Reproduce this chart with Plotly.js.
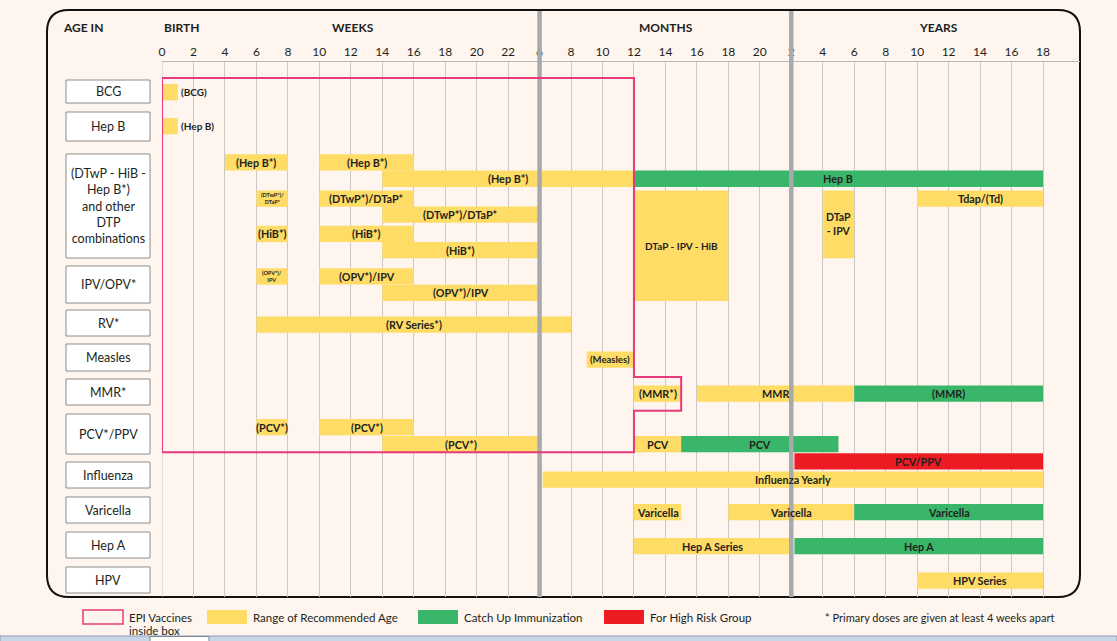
<!DOCTYPE html>
<html><head><meta charset="utf-8">
<script src="https://cdn.plot.ly/plotly-3.0.1.min.js"></script>
<style>html,body{margin:0;padding:0;background:#fdf5ee;}#chart{width:1117px;height:641px;}</style>
</head><body><div id="chart"></div>
<script>
// ---------------- DATA ----------------
const tickLabels = ["0","2","4","6","8","10","12","14","16","18","20","22",
                    "6","8","10","12","14","16","18","20",
                    "2","4","6","8","10","12","14","16","18"];
const headerTexts = ["AGE IN","BIRTH","WEEKS","MONTHS","YEARS"];
const rowNames  = ["BCG","HepB","DTP","IPV","RV","Measles","MMR","PCV","Flu","Var","HepA","HPV"];
const rowLabels = ["BCG","Hep B","(DTwP - HiB -<br>Hep B*)<br>and other<br>DTP<br>combinations","IPV/OPV*","RV*",
                   "Measles","MMR*","PCV*/PPV","Influenza","Varicella","Hep A","HPV"];
// bar positions on the age axis (axis index units: weeks 0-22, months 6-20, years 2-18)
const barFrom  = ["BCG:0","HepB:0","DTP:0","DTP:0","DTP:1","DTP:1","DTP:2","DTP:2","DTP:3","DTP:2","DTP:2","DTP:2",
                  "DTP:4","DTP:4","DTP:5","IPV:0","IPV:0","IPV:1","RV:0","Measles:0","MMR:0","MMR:0","MMR:0",
                  "PCV:0","PCV:0","PCV:1","PCV:1","PCV:1","PCV:2","Flu:0","Var:0","Var:0","Var:0","HepA:0","HepA:0","HPV:0"];
const barTo    = [null,null,null,null,null,null,null,null,null,"IPV:1","DTP:5",null,
                  null,null,null,null,null,null,null,null,null,null,null,
                  null,null,null,null,null,null,null,null,null,null,null,null,null];
const barStart = [0,0,2,5,7,15,3,5,7,15,21,24,3,5,7,3,5,7,3,13.5,15,17,22,3,5,7,15,16.5,20.1,12.1,15,18,22,15,20.1,24];
const barEnd   = [0.5,0.5,4,8,15,28,4,8,12,18,22,28,4,8,12,4,8,12,13,15,16.5,22,28,4,8,12,16.5,21.5,28,28,16.5,22,28,20,28,28];
const barLabel = ["(BCG)","(Hep B)","(Hep B*)","(Hep B*)","(Hep B*)","Hep B","(DTwP*)/<br>DTaP*","(DTwP*)/DTaP*","(DTwP*)/DTaP*",
                  "DTaP - IPV - HiB","DTaP<br>- IPV","Tdap/(Td)","(HiB*)","(HiB*)","(HiB*)","(OPV*)/<br>IPV","(OPV*)/IPV","(OPV*)/IPV",
                  "(RV Series*)","(Measles)","(MMR*)","MMR","(MMR)","(PCV*)","(PCV*)","(PCV*)","PCV","PCV","PCV/PPV",
                  "Influenza Yearly","Varicella","Varicella","Varicella","Hep A Series","Hep A","HPV Series"];
const barKind  = ["rec","rec","rec","rec","rec","catch","rec","rec","rec","rec","rec","rec","rec","rec","rec","rec","rec","rec",
                  "rec","rec","rec","rec","catch","rec","rec","rec","rec","catch","risk","rec","rec","rec","catch","rec","catch","rec"];
const legendLabels = [["EPI Vaccines","inside box"],["Range of Recommended Age"],["Catch Up Immunization"],["For High Risk Group"]];
const footnote = "* Primary doses are given at least 4 weeks apart";
const epiBoxEnd = 15, epiMmrEnd = 16.5;

// ---------------- LAYOUT / STYLE ----------------
const COLORS = {rec:'#FFDC66', catch:'#39B66A', risk:'#ED1C24'};
const INK = '#231f20', PINK = '#E8397B', BG = '#fdf5ee';
const FONT = 'Lato';
const ROW_BOX = {BCG:[80,103],HepB:[112,141],DTP:[154,258],IPV:[266,303],RV:[310,336],Measles:[344,371],
                 MMR:[379,405],PCV:[414,454],Flu:[462,488],Var:[497,523],HepA:[532,558],HPV:[567,593]};
const LANE_TOP = {BCG:[84],HepB:[118],DTP:[154.3,170.6,190.5,206.5,225.8,242],IPV:[268.3,284.7],RV:[316.5],
                  Measles:[351.5],MMR:[385.5],PCV:[419,436,453.3],Flu:[471.5],Var:[504],HepA:[538],HPV:[572.5]};
const BAR_H = 16.3;
const TEXT_SIZE = {"(DTwP*)/<br>DTaP*":5.5,"(OPV*)/<br>IPV":5.5,"DTaP<br>- IPV":10.5,"DTaP - IPV - HiB":10,
                   "(Measles)":9.5,"(BCG)":10,"(Hep B)":10};
const DEFAULT_TEXT = 10.8;
// plot area: x 162..1080 px, y 62..597 px
const L=162, R=1080, T=62, B=597, W=1117, H=641;
const STEP = (1043-L)/28;
const PX = p => (p-L)/(R-L);
const PY = p => (B-p)/(B-T);

function laneTop(s){const [r,i]=s.split(':');return LANE_TOP[r][+i];}
function barTop(i){return laneTop(barFrom[i]);}
function barBot(i){return laneTop(barTo[i]||barFrom[i])+BAR_H;}

const traces = ['rec','catch','risk'].map(k=>{
  const idx = barKind.map((v,i)=>v===k?i:-1).filter(i=>i>=0);
  return {
    type:'bar', orientation:'h',
    base: idx.map(i=>barStart[i]),
    x: idx.map(i=>barEnd[i]-barStart[i]),
    y: idx.map(i=>(barTop(i)+barBot(i))/2),
    width: idx.map(i=>barBot(i)-barTop(i)),
    marker:{color:COLORS[k], line:{width:0}},
    hoverinfo:'skip', showlegend:false
  };
});

const shapes = [];
const annotations = [];
// bar labels (drawn above separator lines)
barLabel.forEach((t,i)=>{
  const len = barEnd[i]-barStart[i];
  const outside = len < 1;
  annotations.push({xref:'x', yref:'y', x: outside ? barEnd[i]+0.08 : (barStart[i]+barEnd[i])/2,
    y:(barTop(i)+barBot(i))/2, text:t, showarrow:false, xanchor: outside?'left':'center', yanchor:'middle',
    borderpad:0, font:{family:FONT, weight:700, color:INK, size:TEXT_SIZE[t]||DEFAULT_TEXT}});
});
// rounded frame
const r=22, fx0=47, fx1=R, fy0=10, fy1=B;
const P=(x,y)=>PX(x)+','+PY(y);
shapes.push({type:'path', xref:'paper', yref:'paper', layer:'below',
  path:`M ${P(fx0+r,fy0)} L ${P(fx1-r,fy0)} Q ${P(fx1,fy0)} ${P(fx1,fy0+r)} L ${P(fx1,fy1-r)} Q ${P(fx1,fy1)} ${P(fx1-r,fy1)} L ${P(fx0+r,fy1)} Q ${P(fx0,fy1)} ${P(fx0,fy1-r)} L ${P(fx0,fy0+r)} Q ${P(fx0,fy0)} ${P(fx0+r,fy0)} Z`,
  line:{color:'#111',width:2}});
// left gridline at 0
shapes.push({type:'line', xref:'x', yref:'paper', x0:0, x1:0, y0:0, y1:1, layer:'below', line:{color:'#c9c9c9',width:1}});
// thick separators
[12,20].forEach(v=>shapes.push({type:'line', xref:'x', yref:'paper', x0:v, x1:v, y0:PY(B), y1:PY(fy0+1), layer:'above', line:{color:'#a7a9ac',width:4.5}}));
// EPI pink outline
const mT = LANE_TOP.MMR[0]-8.5, mB = LANE_TOP.MMR[0]+BAR_H+9, pT = 78, pB = LANE_TOP.PCV[1]+BAR_H;
shapes.push({type:'path', xref:'x', yref:'y', layer:'above',
  path:`M 0,${pT} L ${epiBoxEnd},${pT} L ${epiBoxEnd},${mT} L ${epiMmrEnd},${mT} L ${epiMmrEnd},${mB} L ${epiBoxEnd},${mB} L ${epiBoxEnd},${pB} L 0,${pB} Z`,
  line:{color:PINK,width:2}});
// row label boxes
rowNames.forEach((n,i)=>{
  const [t,b]=ROW_BOX[n];
  shapes.push({type:'rect', xref:'paper', yref:'paper', x0:PX(66), x1:PX(150), y0:PY(b), y1:PY(t),
    fillcolor:'#ffffff', line:{color:'#8c8c8c',width:1}});
  annotations.push({xref:'paper', yref:'paper', x:PX(108), y:PY((t+b)/2), text:rowLabels[i], showarrow:false,
    xanchor:'center', yanchor:'middle', font:{family:FONT,size:12.5,color:INK}});
});
// headers
const hdrPos = [[61,'left'],[162,'left'],[353,'center'],[666,'center'],[938,'center']];
headerTexts.forEach((t,i)=>annotations.push({xref:'paper', yref:'paper', x:PX(hdrPos[i][0]), y:PY(27), text:t,
  showarrow:false, xanchor:hdrPos[i][1], yanchor:'middle', font:{family:FONT,size:12,weight:700,color:INK}}));
// legend
const legX = [[83,123],[207,247],[418,458],[604,644]];
const legFill = [BG, COLORS.rec, COLORS.catch, COLORS.risk];
legX.forEach((p,i)=>{
  shapes.push({type:'rect', xref:'paper', yref:'paper', x0:PX(p[0]), x1:PX(p[1]), y0:PY(624), y1:PY(610),
    fillcolor:legFill[i], line:{color:i===0?PINK:legFill[i], width:i===0?1.5:0}});
  legendLabels[i].forEach((line,j)=>annotations.push({xref:'paper', yref:'paper', x:PX(p[1]+4), y:PY(617+13*j), text:line,
    showarrow:false, xanchor:'left', yanchor:'middle', font:{family:FONT,size:11.5,color:INK}}));
});
annotations.push({xref:'paper', yref:'paper', x:PX(823), y:PY(617), text:footnote, showarrow:false,
  xanchor:'left', yanchor:'middle', font:{family:FONT,size:11,color:INK}});
// bottom window strip
shapes.push({type:'rect', xref:'paper', yref:'paper', x0:PX(0), x1:PX(W), y0:PY(H+2), y1:PY(636),
  fillcolor:'#c8d7e8', line:{color:'#8e9db0',width:1}});
shapes.push({type:'rect', xref:'paper', yref:'paper', x0:PX(150), x1:PX(209), y0:PY(H+2), y1:PY(636.5),
  fillcolor:'#ffffff', line:{color:'#7c8796',width:1}});

const layout = {
  width:W, height:H, autosize:false,
  margin:{l:L, r:W-R, t:T, b:H-B, pad:0},
  paper_bgcolor:BG, plot_bgcolor:BG,
  barmode:'overlay', showlegend:false,
  xaxis:{range:[0,(R-L)/STEP], side:'top', tickmode:'array', tickvals:tickLabels.map((_,i)=>i), ticktext:tickLabels,
         showgrid:true, gridcolor:'#c9c9c9', gridwidth:1, zeroline:false, showline:true, linecolor:'#b8b8b8', linewidth:1,
         ticks:'', tickfont:{family:FONT,size:12,color:INK}, fixedrange:true},
  yaxis:{range:[B,T], showgrid:false, zeroline:false, showticklabels:false, showline:false, fixedrange:true},
  shapes, annotations
};
Plotly.newPlot('chart', traces, layout, {displayModeBar:false, staticPlot:true});
</script></body></html>
